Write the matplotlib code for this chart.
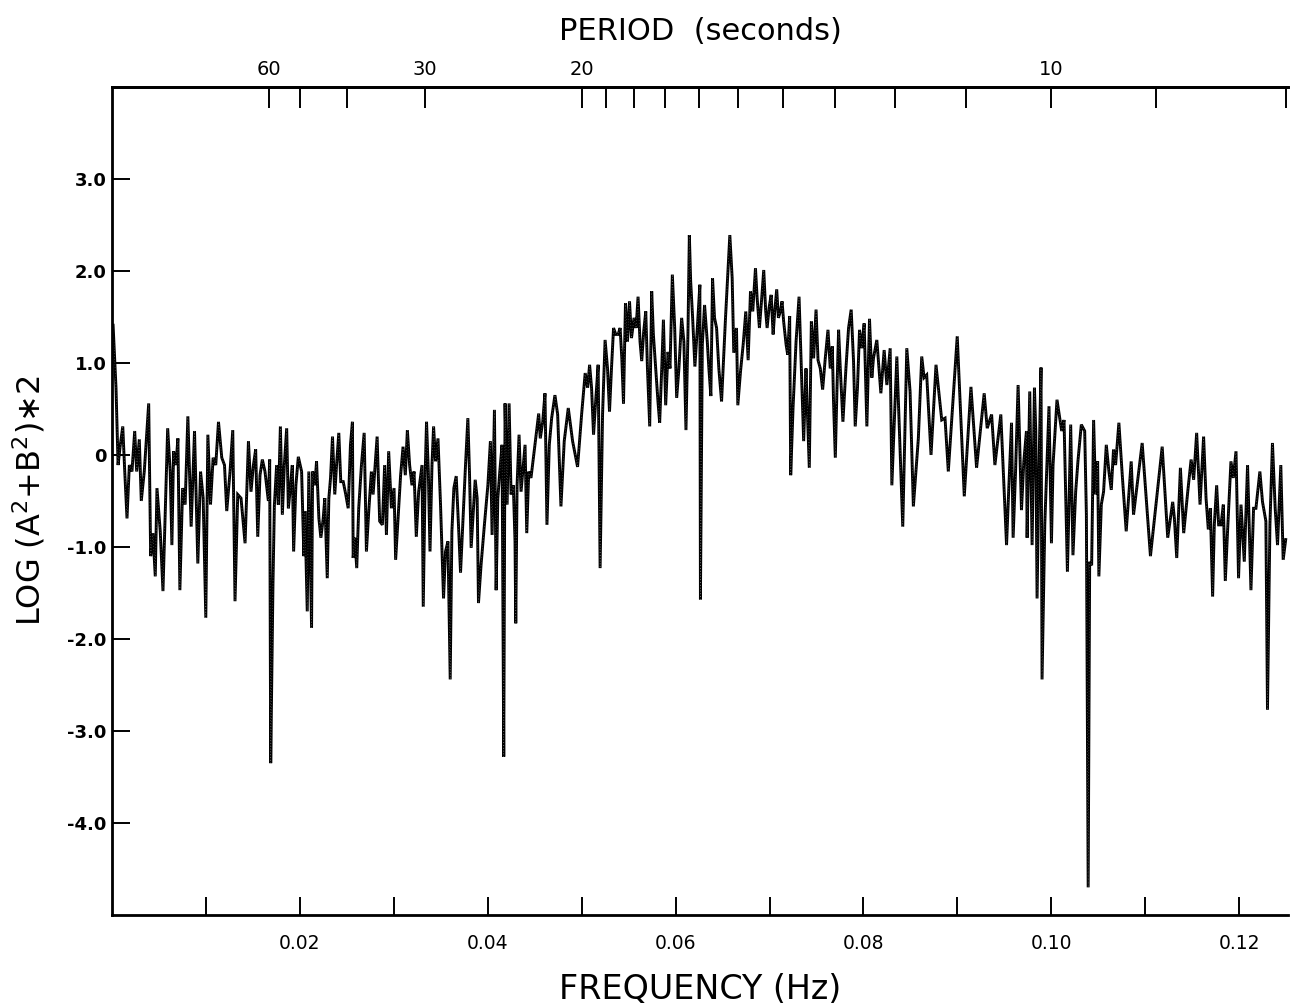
import matplotlib
matplotlib.use("Agg")
import matplotlib.pyplot as plt
import numpy as np

# ---- data ----
freq_mhz = [
    0.11, 0.42, 0.64, 0.88, 1.14, 1.35, 1.59, 1.84, 2.12, 2.41, 2.62, 2.90, 3.11, 3.43, 3.90,
    4.11, 4.35, 4.60, 4.78, 5.13, 5.42, 5.66, 5.92, 6.19, 6.37, 6.55, 6.80, 7.01, 7.22, 7.51,
    7.78, 8.07, 8.42, 8.78, 9.13, 9.42, 9.70, 9.98, 10.20, 10.48, 10.76, 11.04, 11.33, 11.68,
    11.97, 12.21, 12.56, 12.85, 13.09, 13.38, 13.73, 14.16, 14.52, 14.79, 15.05, 15.29, 15.51,
    15.75, 16.00, 16.28, 16.64, 16.78, 16.89, 17.13, 17.28, 17.52, 17.70, 17.92, 18.13, 18.34,
    18.59, 18.77, 18.94, 19.19, 19.33, 19.57, 19.83, 20.18, 20.42, 20.53, 20.78, 20.95, 21.24,
    21.35, 21.59, 21.77, 22.02, 22.23, 22.48, 22.65, 22.91, 23.08, 23.26, 23.47, 23.71, 23.90,
    24.14, 24.35, 24.61, 24.88, 25.14, 25.38, 25.59, 25.67, 25.84, 26.05, 26.26, 26.55, 26.84,
    27.08, 27.33, 27.61, 27.79, 27.96, 28.22, 28.49, 28.78, 29.02, 29.21, 29.45, 29.74, 30.02,
    30.19, 30.45, 30.72, 30.98, 31.22, 31.44, 31.68, 31.93, 32.15, 32.39, 32.64, 33.00, 33.13,
    33.35, 33.48, 33.67, 33.85, 34.06, 34.23, 34.44, 34.70, 34.97, 35.29, 35.50, 35.76, 36.00,
    36.18, 36.39, 36.64, 36.88, 37.10, 37.35, 37.63, 37.88, 38.05, 38.23, 38.48, 38.66, 38.87,
    39.01, 39.29, 39.64, 40.01, 40.28, 40.46, 40.71, 40.89, 41.07, 41.28, 41.52, 41.70, 41.84,
    42.06, 42.27, 42.48, 42.72, 42.90, 42.98, 43.12, 43.33, 43.54, 43.79, 43.97, 44.15, 44.36,
    44.60, 44.89, 45.14, 45.42, 45.59, 45.85, 46.09, 46.30, 46.55, 46.80, 47.15, 47.44, 47.79,
    48.14, 48.57, 49.03, 49.56, 49.99, 50.37, 50.63, 50.84, 51.05, 51.26, 51.51, 51.75, 51.96,
    52.22, 52.49, 52.75, 52.96, 53.17, 53.39, 53.63, 53.88, 54.09, 54.27, 54.45, 54.66, 54.87,
    55.09, 55.30, 55.57, 55.79, 56.00, 56.21, 56.39, 56.60, 56.82, 57.00, 57.24, 57.45, 57.63,
    57.88, 58.12, 58.30, 58.52, 58.70, 58.94, 59.19, 59.40, 59.65, 59.90, 60.11, 60.35, 60.64,
    60.88, 61.10, 61.31, 61.46, 61.60, 61.81, 62.05, 62.31, 62.58, 62.64, 62.84, 63.08, 63.37,
    63.54, 63.75, 63.93, 64.14, 64.36, 64.60, 64.89, 65.31, 65.77, 66.02, 66.19, 66.48, 66.62,
    66.91, 67.19, 67.47, 67.72, 67.97, 68.21, 68.50, 68.68, 68.92, 69.14, 69.38, 69.59, 69.74,
    69.95, 70.17, 70.38, 70.55, 70.76, 70.94, 71.15, 71.33, 71.50, 71.76, 71.93, 72.14, 72.25,
    72.50, 72.82, 73.14, 73.38, 73.63, 73.88, 73.99, 74.23, 74.45, 74.69, 74.95, 75.16, 75.40,
    75.65, 75.93, 76.22, 76.46, 76.68, 76.81, 77.00, 77.18, 77.35, 77.53, 77.81, 78.13, 78.41,
    78.69, 78.94, 79.12, 79.36, 79.58, 79.83, 80.07, 80.36, 80.64, 80.89, 81.06, 81.42, 81.85,
    82.20, 82.49, 82.84, 83.02, 83.55, 84.18, 84.61, 84.96, 85.31, 85.84, 86.20, 86.45, 86.73,
    87.19, 87.72, 88.33, 88.68, 89.03, 89.98, 90.73, 91.44, 92.04, 92.85, 93.17, 93.64, 93.99,
    94.62, 95.23, 95.47, 95.76, 95.93, 96.19, 96.46, 96.82, 97.07, 97.35, 97.42, 97.70, 97.95,
    98.20, 98.34, 98.48, 98.69, 98.90, 99.01, 99.30, 99.75, 100.01, 100.18, 100.60, 100.89,
    101.10, 101.35, 101.71, 101.88, 102.06, 102.30, 102.59, 102.83, 103.19, 103.55, 103.73,
    103.92, 104.08, 104.29, 104.50, 104.71, 104.93, 105.06, 105.32, 105.56, 105.85, 106.13,
    106.38, 106.62, 106.84, 107.19, 107.55, 107.97, 108.50, 108.75, 109.67, 110.55, 111.80,
    112.39, 112.92, 113.10, 113.35, 113.74, 114.09, 114.52, 114.88, 115.15, 115.47, 115.83,
    116.21, 116.47, 116.71, 116.93, 117.17, 117.35, 117.60, 117.81, 118.06, 118.31, 118.52,
    118.76, 119.12, 119.37, 119.66, 119.93, 120.19, 120.54, 120.89, 121.25, 121.53, 121.78,
    122.20, 122.48, 122.84, 123.01, 123.27, 123.54, 123.83, 124.08, 124.43, 124.68, 124.95,
]

log_power = [
    1.41, 0.73, -0.11, 0.11, 0.31, -0.18, -0.69, -0.11, -0.18, 0.26, -0.18, 0.17, -0.50, -0.18, 0.56,
    -1.10, -0.85, -1.32, -0.36, -0.83, -1.48, -0.65, 0.29, -0.18, -0.98, 0.04, -0.11, 0.18, -1.47, -0.36,
    -0.54, 0.42, -0.78, 0.26, -1.18, -0.18, -0.47, -1.77, 0.22, -0.54, -0.03, -0.11, 0.36, -0.03,
    -0.11, -0.61, -0.18, 0.27, -1.59, -0.43, -0.47, -0.96, 0.15, -0.40, -0.11, 0.06, -0.89,
    -0.22, -0.05, -0.18, -0.50, -0.05, -3.35, -1.41, -0.55, -0.11, -0.54, 0.31, -0.65, -0.11,
    0.29, -0.58, -0.40, -0.11, -1.05, -0.33, -0.02, -0.18, -1.10, -0.61, -1.70, -0.18, -1.88,
    -0.18, -0.33, -0.07, -0.69, -0.90, -0.69, -0.47, -1.34, -0.47, -0.25, 0.20, -0.43, -0.11,
    0.24, -0.29, -0.29, -0.43, -0.58, 0.11, 0.36, -1.12, -0.90, -1.23, -0.58, -0.11, 0.24,
    -1.05, -0.61, -0.18, -0.43, -0.18, 0.20, -0.72, -0.76, -0.11, -0.87, 0.04, -0.58, -0.36,
    -1.14, -0.69, -0.22, 0.09, -0.22, 0.27, -0.11, -0.33, -0.18, -0.89, -0.40, -0.11, -1.65,
    -0.14, 0.36, -0.18, -1.05, -0.11, 0.31, -0.07, 0.18, -0.54, -1.56, -1.05, -0.94, -2.44,
    -0.83, -0.36, -0.23, -0.76, -1.28, -0.72, -0.11, 0.40, -0.18, -1.01, -0.58, -0.27, -0.47,
    -1.61, -1.19, -0.76, -0.33, 0.15, -0.87, 0.49, -1.47, -0.47, -0.18, 0.11, -3.28, 0.56,
    -0.54, 0.56, -0.43, -0.33, -0.94, -1.83, -0.33, 0.22, -0.40, -0.11, 0.11, -0.85, -0.18,
    -0.25, 0.00, 0.22, 0.45, 0.18, 0.36, 0.67, -0.76, 0.11, 0.40, 0.65, 0.44, -0.56,
    0.15, 0.51, 0.15, -0.13, 0.44, 0.89, 0.73, 0.98, 0.73, 0.22, 0.62, 0.98, -1.23,
    0.44, 1.25, 0.94, 0.47, 0.94, 1.38, 1.31, 1.31, 1.38, 1.05, 0.56, 1.65, 1.23,
    1.67, 1.27, 1.49, 1.38, 1.72, 1.23, 1.02, 1.34, 1.56, 0.94, 0.31, 1.78, 1.31,
    0.94, 0.58, 0.35, 0.94, 1.47, 0.54, 1.12, 0.94, 1.96, 1.38, 0.62, 0.94, 1.49,
    1.23, 0.27, 1.31, 2.39, 1.89, 1.49, 0.96, 1.38, 1.85, -1.57, 1.20, 1.63, 1.23,
    0.94, 0.64, 1.92, 1.49, 1.38, 0.94, 0.58, 1.49, 2.39, 1.92, 1.11, 1.38, 0.54,
    0.91, 1.20, 1.56, 1.03, 1.78, 1.56, 2.03, 1.70, 1.38, 1.67, 2.01, 1.56, 1.38,
    1.60, 1.74, 1.31, 1.56, 1.80, 1.49, 1.56, 1.67, 1.45, 1.20, 1.09, 1.51, -0.22,
    0.51, 1.23, 1.72, 0.94, 0.15, 0.94, 0.58, -0.14, 1.45, 1.05, 1.58, 1.03, 0.94,
    0.71, 1.05, 1.36, 0.94, 1.18, 0.58, -0.03, 0.73, 1.36, 0.94, 0.36, 0.94, 1.38,
    1.58, 1.02, 0.31, 0.73, 1.36, 1.16, 1.43, 0.31, 1.48, 0.84, 1.05, 1.25, 0.67,
    1.14, 0.76, 1.16, -0.33, 1.07, -0.78, 1.16, 0.69, -0.56, 0.18, 1.07, 0.84, 0.87,
    0.00, 0.98, 0.38, 0.40, -0.18, 1.29, -0.45, 0.74, -0.14, 0.67, 0.29, 0.44, -0.11,
    0.44, -0.98, -0.36, 0.35, -0.90, -0.18, 0.76, -0.60, -0.07, 0.26, -0.90, 0.69, -0.98,
    0.73, 0.26, -1.56, -0.11, 0.95, -2.44, -0.76, 0.53, -0.96, -0.11, 0.60, 0.40,
    0.26, 0.38, -1.27, -0.54, 0.33, -1.09, -0.40, -0.07, 0.33, 0.26, -0.65,
    -4.70, -1.16, -1.20, 0.38, -0.43, -0.07, -1.32, -0.54, -0.40, 0.11, -0.18,
    -0.38, 0.06, -0.11, 0.35, -0.22, -0.83, -0.07, -0.65, 0.13, -1.10, 0.09,
    -0.90, -0.51, -0.69, -1.12, -0.14, -0.85, -0.40, -0.05, -0.27, 0.24, -0.54,
    0.20, -0.47, -0.81, -0.58, -1.54, -0.76, -0.33, -0.76, -0.76, -0.54, -1.37,
    -0.83, -0.07, -0.25, 0.04, -1.34, -0.54, -1.16, -0.11, -1.47, -0.58, -0.58,
    -0.18, -0.51, -0.72, -2.77, -0.76, 0.13, -0.58, -0.98, -0.11, -1.14, -0.92,
]

freq_ticks = [0.01, 0.02, 0.03, 0.04, 0.05, 0.06, 0.07, 0.08, 0.09, 0.10, 0.11, 0.12]
freq_labels = ["", "0.02", "", "0.04", "", "0.06", "", "0.08", "", "0.10", "", "0.12"]
y_ticks = [-4.0, -3.0, -2.0, -1.0, 0.0, 1.0, 2.0, 3.0]
y_labels = ["-4.0", "-3.0", "-2.0", "-1.0", "0", "1.0", "2.0", "3.0"]
period_ticks = [60, 50, 40, 30, 20, 19, 18, 17, 16, 15, 14, 13, 12, 11, 10, 9, 8]
period_labels = {60: "60", 30: "30", 20: "20", 10: "10"}

freq = np.array(freq_mhz) / 1000.0

fig = plt.figure(figsize=(12.94, 10.05), dpi=100)
ax = fig.add_axes([0.0866, 0.0896, 0.9088, 0.8239])

ax.plot(freq, log_power, color="black", lw=2.1, solid_joinstyle="miter")
ax.plot(freq, log_power, color="white", lw=0.45, ls=(0, (1.0, 3.5)), alpha=0.55)

ax.set_xlim(0, 0.1252)
ax.set_ylim(-5.0, 4.0)

for s in ["left", "top", "bottom"]:
    ax.spines[s].set_linewidth(2.0)
ax.spines["right"].set_visible(False)

ax.set_xticks(freq_ticks)
ax.set_xticklabels(freq_labels, fontsize=13.5)
ax.set_yticks(y_ticks)
ax.set_yticklabels(y_labels, fontsize=13, fontweight="bold")
ax.tick_params(axis="x", direction="in", length=13, width=1.4, pad=14)
ax.tick_params(axis="y", direction="in", length=13, width=1.4, pad=4)

ax.set_xlabel("FREQUENCY (Hz)", fontsize=24, labelpad=14)
ax.set_ylabel("LOG (A$^2$+B$^2$)\u22172", fontsize=23, labelpad=14)

ax2 = ax.twiny()
ax2.set_xlim(ax.get_xlim())
ax2.spines["right"].set_visible(False)
ax2.spines["top"].set_linewidth(2.0)
ax2.set_xticks([1.0 / p for p in period_ticks])
ax2.set_xticklabels([period_labels.get(p, "") for p in period_ticks], fontsize=14)
ax2.tick_params(axis="x", direction="in", length=15, width=1.4, pad=6)
ax2.set_xlabel("PERIOD  (seconds)", fontsize=22, labelpad=14)

fig.savefig("out.png", dpi=100)
